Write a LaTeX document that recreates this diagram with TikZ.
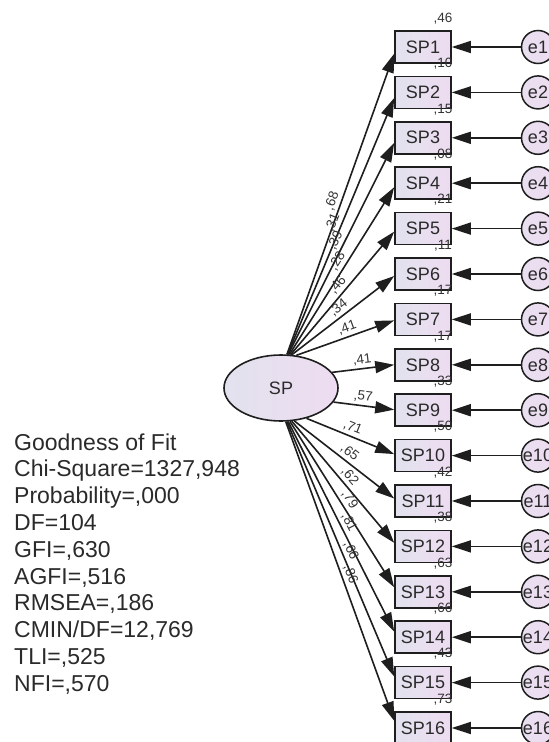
\documentclass[tikz,border=0pt]{standalone}
\usepackage{fontspec}
\setmainfont{Liberation Sans}
\usetikzlibrary{arrows.meta,shapes.geometric}
\definecolor{edge}{HTML}{1E1E1E}
\definecolor{boxL}{HTML}{E2E2EE}
\definecolor{boxR}{HTML}{EEDCF1}
\definecolor{txt}{HTML}{2A2A2A}
\definecolor{lbl}{HTML}{333333}
\tikzset{
 obs/.style={draw=edge, line width=1.6pt, rectangle, minimum width=56pt, minimum height=32pt, inner sep=0pt, left color=boxL, right color=boxR, font=\fontsize{18}{20}\selectfont, text=txt},
 err/.style={draw=edge, line width=1.5pt, circle, minimum size=33pt, inner sep=-6pt, left color=boxL!50!boxR, right color=boxR, font=\fontsize{18}{20}\selectfont, text=txt},
 lat/.style={draw=edge, line width=1.6pt, ellipse, minimum width=114pt, minimum height=66pt, inner sep=0pt, left color=boxL, right color=boxR, font=\fontsize{18}{20}\selectfont, text=txt},
 arr/.style={draw=edge, line width=1.6pt, -{Triangle[length=19pt,width=12pt]}},
 coef/.style={font=\fontsize{13.5}{14}\selectfont, text=lbl, inner sep=2.5pt},
 fitline/.style={anchor=base west, font=\fontsize{23}{26}\selectfont, text=txt, inner sep=0pt},
}
\begin{document}
\begin{tikzpicture}[x=1pt,y=-1pt]
\useasboundingbox (0,0) rectangle (549,742);
\clip (0,0) rectangle (549,742);
\node[lat] (SP) at (281,388) {SP};
\foreach \i/\sa/\ld/\rr/\ps in {1/80/68/46/0.5, 2/79/31/10/0.5, 3/78/39/15/0.52, 4/76/28/08/0.53, 5/74/46/21/0.52, 6/72/34/11/0.51, 7/65/41/17/0.55, 8/17/41/17/0.5, 9/-15/57/33/0.47, 10/-50/71/50/0.49, 11/-68/65/42/0.5, 12/-72/62/38/0.5, 13/-75/79/63/0.5, 14/-78/81/66/0.5, 15/-80/66/43/0.52, 16/-82/86/73/0.52}{
 \pgfmathsetmacro\yc{47+45.4*(\i-1)}
 \pgfmathtruncatemacro\ba{180+atan(0.02*(388-\yc)/28)}
 \node[obs] (b\i) at (423,\yc) {SP\i};
 \node[err] (e\i) at (538,\yc) {e\i};
 \node[coef] (r\i) at (443,\yc-28.5) {,\rr};
 \draw[arr] (e\i) -- (b\i);
 \draw[arr] (SP.\sa) -- node[coef, sloped, above, pos=\ps] (l\i) {,\ld} (b\i.\ba);
}
\foreach \k/\t in {0/Goodness of Fit, 1/{Chi-Square=1327,948}, 2/{Probability=,000}, 3/DF=104, 4/{GFI=,630}, 5/{AGFI=,516}, 6/{RMSEA=,186}, 7/{CMIN/DF=12,769}, 8/{TLI=,525}, 9/{NFI=,570}}{
 \node[fitline] (g\k) at (14,450+26.8*\k) {\t};
}
\end{tikzpicture}
\end{document}
